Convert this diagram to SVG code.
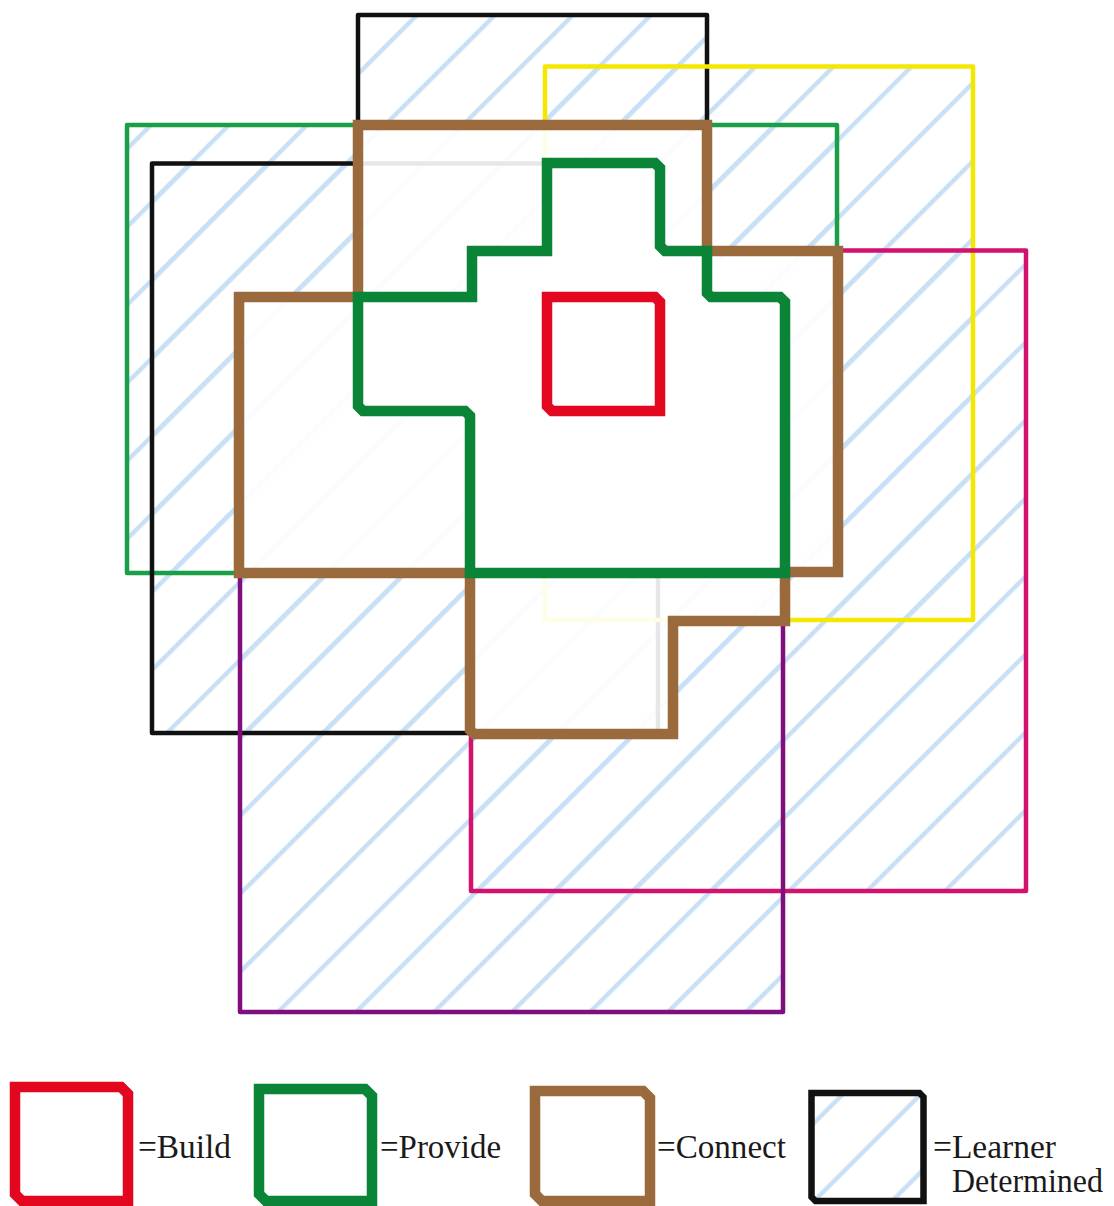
<svg xmlns="http://www.w3.org/2000/svg" width="1114" height="1206" viewBox="0 0 1114 1206">
<defs>
<pattern id="hatch" patternUnits="userSpaceOnUse" width="200" height="55.154" patternTransform="rotate(-45)">
<rect x="-1" y="27.5" width="202" height="4.4" fill="#c8e0f5"/>
</pattern>
<pattern id="hatch-legend" patternUnits="userSpaceOnUse" width="200" height="55.154" patternTransform="rotate(-45)">
<rect x="-1" y="43.8" width="202" height="4.4" fill="#c8e0f5"/>
</pattern>
<style>
.hatch{fill:url(#hatch);stroke:none}
.thin{fill:none;stroke-width:4.5;stroke-linejoin:round}
.thick{fill:none;stroke-width:10.5;stroke-linejoin:miter}
.build{stroke:#e2061f}
.provide{stroke:#0a8437}
.connect{stroke:#9a6a3c}
.label{font-family:"Liberation Serif","Times New Roman",serif;font-size:34px;fill:#1a1a1a}
</style>
</defs>
<rect width="1114" height="1206" fill="#ffffff"/>

<g id="learner-hatching">
<rect class="hatch" x="358" y="15" width="349" height="110"/>
<rect class="hatch" x="127" y="125" width="710" height="448"/>
<rect class="hatch" x="152" y="163.5" width="506" height="569.5"/>
<rect class="hatch" x="545" y="66.5" width="428" height="553.5"/>
<rect class="hatch" x="471" y="250.5" width="555" height="640.5"/>
<rect class="hatch" x="240" y="573" width="543" height="439"/>
</g>

<g id="learner-black-top"><rect class="thin" x="358" y="15" width="349" height="110" stroke="#111111"/></g>
<g id="learner-green"><rect class="thin" x="127" y="125" width="710" height="448" stroke="#1a9e48" stroke-width="3.8"/></g>
<g id="learner-black-left"><rect class="thin" x="152" y="163.5" width="506" height="569.5" stroke="#111111"/></g>
<g id="learner-yellow"><rect class="thin" x="545" y="66.5" width="428" height="553.5" stroke="#f5e800" stroke-width="5"/></g>
<g id="learner-magenta"><rect class="thin" x="471" y="250.5" width="555" height="640.5" stroke="#d3116e"/></g>
<g id="learner-purple"><rect class="thin" x="240" y="573" width="543" height="439" stroke="#7f0f7c"/></g>

<g id="region-fills">
<path d="M358,125 L707,125 L707,251 L838,251 L838,572 L785,572 L785,621 L673,621 L673,734 L470,734 L470,573 L239,573 L239,297 L358,297 Z" fill="#ffffff" fill-opacity="0.9"/>
<path d="M547,163 L660,163 L660,251 L707,251 L707,297 L785,297 L785,573 L470,573 L470,411 L358,411 L358,297 L472,297 L472,251 L547,251 Z" fill="#ffffff"/>
</g>

<g id="connect-region">
<path class="thick connect" d="M358,125 L707,125 L707,251 L838,251 L838,572 L785,572 L785,621 L673,621 L673,734 L474,734 L470,730 L470,573 L239,573 L239,297 L358,297 Z"/>
</g>

<g id="provide-region">
<path class="thick provide" d="M547,163 L655,163 L660,168 L660,246 L665,251 L707,251 L707,293 L711,297 L780,297 L785,302 L785,573 L470,573 L470,416 L465,411 L363,411 L358,406 L358,297 L472,297 L472,251 L547,251 Z"/>
</g>

<g id="build-region">
<path class="thick build" d="M547,297 L655,297 L660,302 L660,411 L552,411 L547,406 Z"/>
</g>

<g id="connectors"></g>

<g id="legend-build">
<path class="thick build" d="M15,1087 L121,1087 L128,1094 L128,1201 L22,1201 L15,1194 Z"/>
<text class="label" x="138" y="1158" textLength="93" lengthAdjust="spacingAndGlyphs">=Build</text>
</g>
<g id="legend-provide">
<path class="thick provide" d="M259,1089 L365,1089 L372,1096 L372,1201 L266,1201 L259,1194 Z"/>
<text class="label" x="380" y="1158" textLength="121" lengthAdjust="spacingAndGlyphs">=Provide</text>
</g>
<g id="legend-connect">
<path class="thick connect" d="M535,1091 L643,1091 L650,1098 L650,1201 L542,1201 L535,1194 Z"/>
<text class="label" x="657" y="1158" textLength="129" lengthAdjust="spacingAndGlyphs">=Connect</text>
</g>
<g id="legend-learner">
<rect x="811.5" y="1093" width="112" height="108" fill="url(#hatch-legend)"/>
<path d="M811.5,1093 L919.5,1093 L923.5,1097 L923.5,1201 L815.5,1201 L811.5,1197 Z" fill="none" stroke="#111111" stroke-width="6.5"/>
<text class="label" x="933" y="1158" textLength="123" lengthAdjust="spacingAndGlyphs">=Learner</text>
<text class="label" x="952" y="1192" textLength="151" lengthAdjust="spacingAndGlyphs">Determined</text>
</g>
</svg>
